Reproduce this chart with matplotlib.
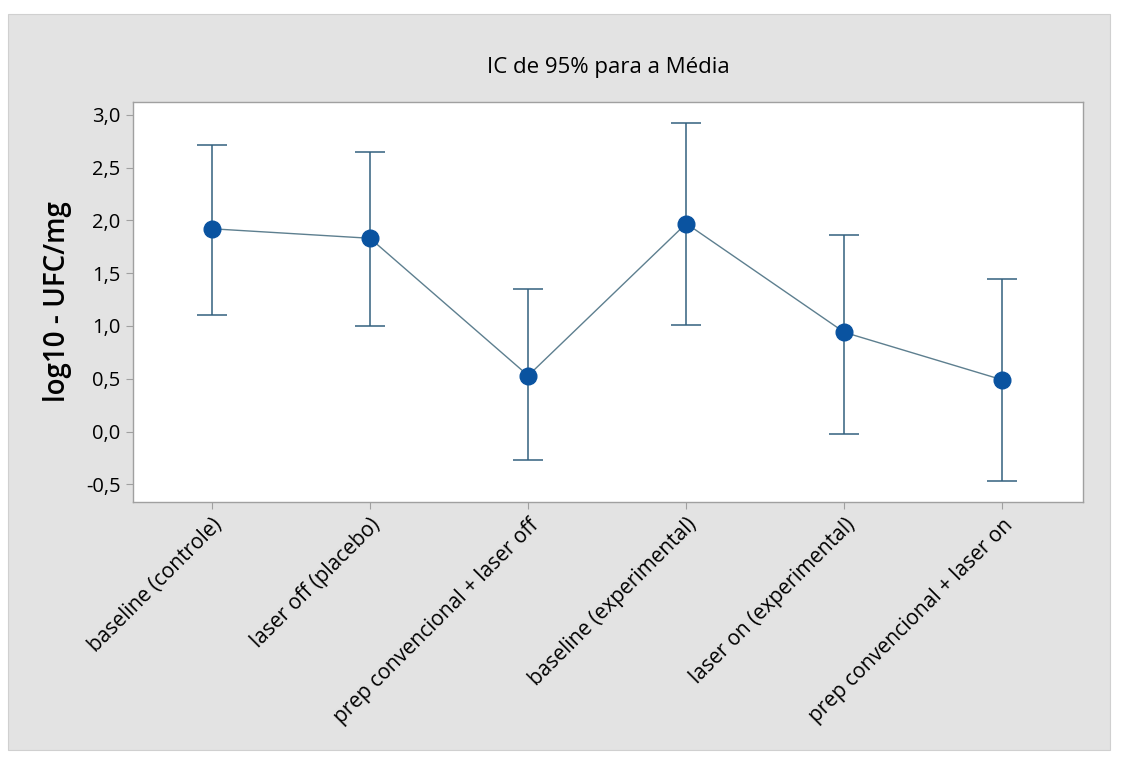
import matplotlib
matplotlib.use('Agg')
import matplotlib.pyplot as plt
from matplotlib.patches import Rectangle

# dados (IC de 95% para a média)
grupos = ['baseline (controle)', 'laser off (placebo)', 'prep convencional + laser off',
          'baseline (experimental)', 'laser on (experimental)', 'prep convencional + laser on']
medias = [1.92, 1.83, 0.53, 1.97, 0.94, 0.49]
ic_sup = [2.71, 2.65, 1.35, 2.92, 1.86, 1.44]
ic_inf = [1.10, 1.00, -0.27, 1.01, -0.02, -0.47]
y_ticks = [-0.5, 0.0, 0.5, 1.0, 1.5, 2.0, 2.5, 3.0]

plt.rcParams['font.family'] = ['Open Sans', 'DejaVu Sans']

W, H = 1121, 758
fig = plt.figure(figsize=(W / 100, H / 100), dpi=100, facecolor='white')

# painel cinza de fundo
fig.add_artist(Rectangle((8 / W, 1 - 750 / H), (1110 - 8) / W, (750 - 14) / H,
                         transform=fig.transFigure, facecolor='#e3e3e3',
                         edgecolor='#d0d0d0', linewidth=0.8, zorder=-10))

ax = fig.add_axes([133 / W, 1 - 502 / H, (1083 - 133) / W, (502 - 102) / H])
ax.set_zorder(1)
ax.set_facecolor('white')

x = list(range(len(grupos)))
err_low = [m - lo for m, lo in zip(medias, ic_inf)]
err_high = [hi - m for m, hi in zip(medias, ic_sup)]

ax.errorbar(x, medias, yerr=[err_low, err_high], fmt='none', ecolor='#33607f',
            elinewidth=1.1, capsize=11, capthick=1.1, zorder=2)
ax.plot(x, medias, color='#5d7f8f', linewidth=1.0, zorder=3)
ax.plot(x, medias, 'o', color='#0a53a0', markersize=12, zorder=4)

ax.set_xlim(-0.5, 5.51)
ax.set_ylim(-0.666, 3.12)
ax.set_yticks(y_ticks)
ax.set_yticklabels([f'{v:.1f}'.replace('.', ',') for v in y_ticks], fontsize=14.5)
ax.set_xticks(x)
ax.set_xticklabels(grupos, rotation=45, ha='right', rotation_mode='anchor', fontsize=15)

for s in ax.spines.values():
    s.set_color('#a0a0a0')
    s.set_linewidth(1.0)
ax.tick_params(axis='both', direction='out', length=5, color='#a0a0a0', pad=4)

ax.set_ylabel('log10 - UFC/mg', fontsize=20, fontweight='semibold', labelpad=10)
fig.text((133 + 1083) / 2 / W, 1 - 68 / H, 'IC de 95% para a Média', ha='center',
         va='center', fontsize=16)

fig.savefig('out.png', dpi=100, facecolor=fig.get_facecolor())
